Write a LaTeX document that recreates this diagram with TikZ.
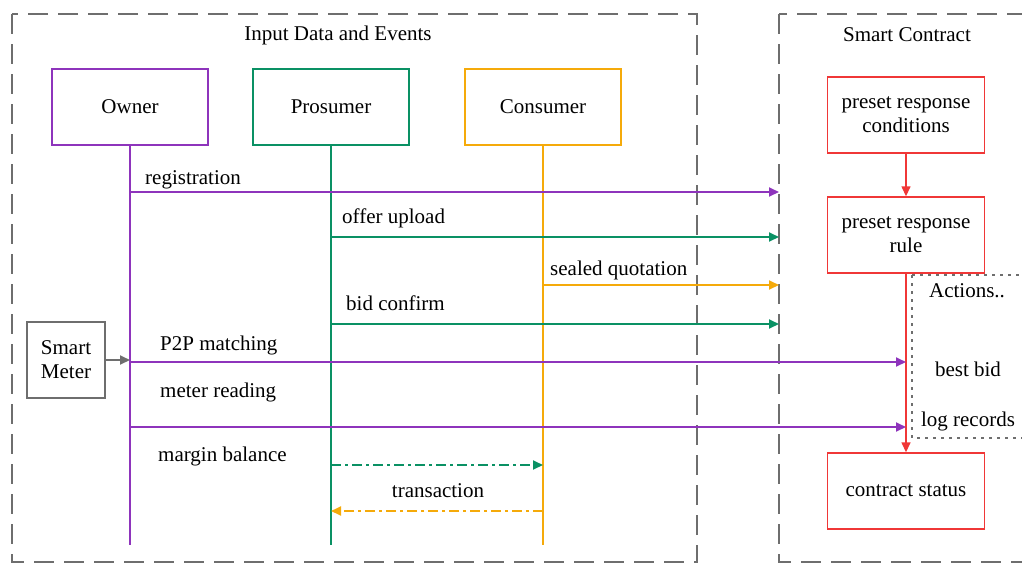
\documentclass[tikz,border=0pt]{standalone}
\usepackage{fontspec}
\setmainfont{Liberation Serif}
\usetikzlibrary{arrows.meta}

\definecolor{ownerc}{RGB}{142,52,188}
\definecolor{prosc}{RGB}{10,145,100}
\definecolor{consc}{RGB}{245,170,10}
\definecolor{scred}{RGB}{240,55,55}
\definecolor{framec}{RGB}{110,110,110}

\tikzset{
  actor/.style={draw, line width=2pt, minimum width=156pt, minimum height=76pt},
  rulebox/.style={draw=scred, line width=1.4pt, minimum width=157pt, minimum height=76pt, align=center},
  msg/.style={line width=1.8pt, -{Triangle[length=10pt,width=9pt]}},
  reply/.style={msg, dash pattern=on 10pt off 4pt on 3pt off 4pt},
  lbl/.style={anchor=west, inner sep=0pt},
  frame/.style={draw=framec, line width=2.2pt, dash pattern=on 20pt off 10pt},
}

\begin{document}
\begin{tikzpicture}[x=1pt,y=-1pt,font=\fontsize{21}{24}\selectfont]
	\useasboundingbox (0,0) rectangle (1022,563);
	\clip (0,0) rectangle (1022,563);

	% frames
	\draw[frame] (12,14) rectangle (697,562);
	\draw[frame] (779,14) rectangle (1045,562);
	\node (inTitle) at (338,35) {Input Data and Events};
	\node (scTitle) at (907,35) {Smart Contract};

	% actors
	\node[actor, draw=ownerc] (owner) at (130,107) {Owner};
	\node[actor, draw=prosc] (pros) at (331,107) {Prosumer};
	\node[actor, draw=consc] (cons) at (543,107) {Consumer};
	\node[draw=framec, line width=2pt, minimum width=78pt, minimum height=76pt, align=center, inner sep=0pt] (meter) at (66,360) {Smart\\Meter};

	\coordinate (ownerEnd) at (130,545);
	\coordinate (prosEnd) at (331,545);
	\coordinate (consEnd) at (543,545);
	\draw[ownerc, line width=2pt] (owner.south) -- (ownerEnd);
	\draw[prosc, line width=2pt] (pros.south) -- (prosEnd);
	\draw[consc, line width=2pt] (cons.south) -- (consEnd);

	% smart contract
	\node[rulebox] (cond) at (906,115) {preset response\\conditions};
	\node[rulebox] (rule) at (906,235) {preset response\\rule};
	\node[rulebox] (status) at (906,491) {contract status};
	\draw[msg, scred, line width=1.4pt] (cond) -- (rule);
	\draw[msg, scred, line width=1.4pt] (rule) -- (status);

	\draw[framec, line width=2.2pt, dash pattern=on 3pt off 5pt] (912,275) -- (1045,275) (912,275) -- (912,438) -- (1045,438);
	\node (actions) at (967,291) {Actions..};
	\node (best) at (968,369) {best bid};
	\node (logrec) at (968,421) {log records};

	% messages
	\coordinate (regEnd) at (779,192);
	\coordinate (offerEnd) at (779,237);
	\coordinate (sealEnd) at (779,285);
	\coordinate (bidEnd) at (779,324);
	\coordinate (matchEnd) at (906,362);
	\coordinate (readEnd) at (906,427);
	\coordinate (payEnd) at (543,465);
	\coordinate (txEnd) at (331,511);

	\draw[msg, ownerc] (owner |- regEnd) -- (regEnd);
	\draw[msg, prosc] (pros |- offerEnd) -- (offerEnd);
	\draw[msg, consc] (cons |- sealEnd) -- (sealEnd);
	\draw[msg, prosc] (pros |- bidEnd) -- (bidEnd);
	\draw[msg, ownerc] (owner |- matchEnd) -- (matchEnd);
	\draw[msg, ownerc] (owner |- readEnd) -- (readEnd);
	\draw[reply, prosc] (pros |- payEnd) -- (payEnd);
	\draw[reply, consc] (cons |- txEnd) -- (txEnd);
	\draw[msg, framec] (meter.east) -- (owner |- meter.east);

	\node[lbl] (regLbl) at (145,180) {registration};
	\node[lbl] (offerLbl) at (342,218) {offer upload};
	\node[lbl] (sealLbl) at (550,270) {sealed quotation};
	\node[lbl] (bidLbl) at (346,303) {bid confirm};
	\node[lbl] (matchLbl) at (160,345) {P2P matching};
	\node[lbl] (readLbl) at (160,392) {meter reading};
	\node[lbl] (payLbl) at (158,456) {margin balance};
	\node (txLbl) at (438,491) {transaction};
\end{tikzpicture}
\end{document}
